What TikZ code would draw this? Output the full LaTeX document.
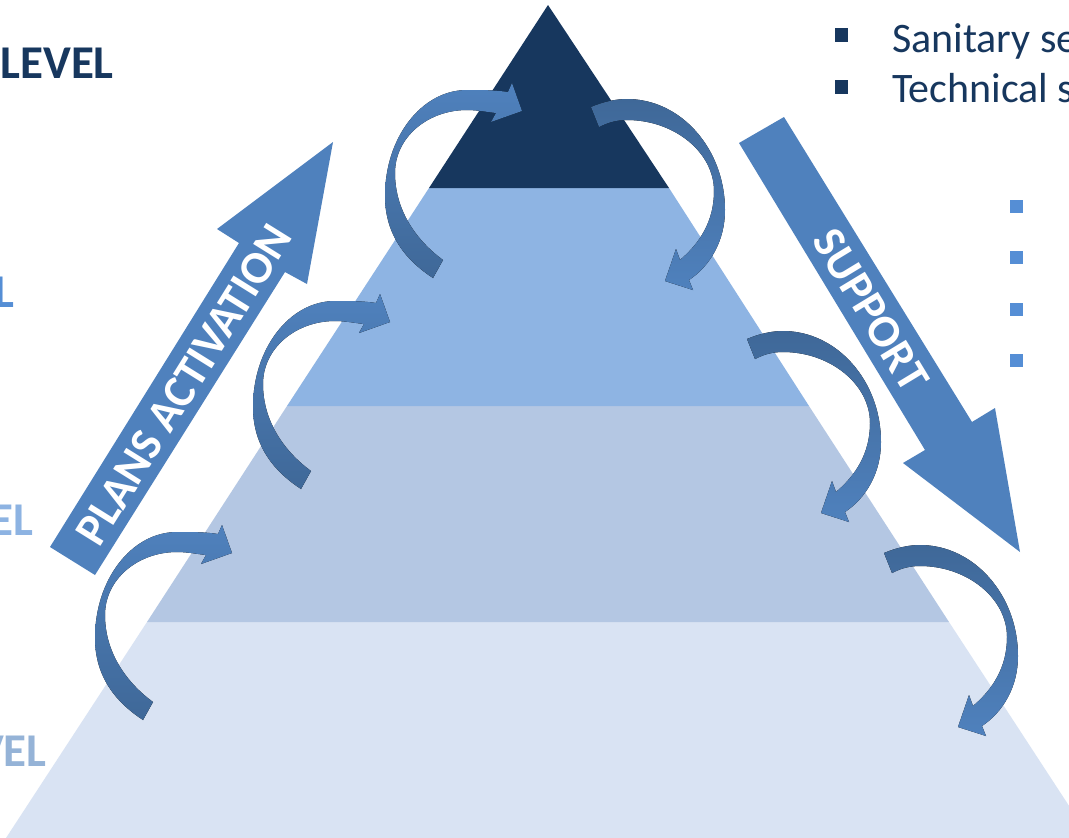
\documentclass[tikz,border=0pt]{standalone}
\usepackage{fontspec}
\setmainfont{Carlito}
\definecolor{navy}{HTML}{17375E}
\definecolor{levtwo}{HTML}{8EB4E3}
\definecolor{levthree}{HTML}{B4C7E3}
\definecolor{levfour}{HTML}{D9E3F3}
\definecolor{arlight}{HTML}{4F81BD}
\definecolor{ardark}{HTML}{3F6898}
\definecolor{lblue}{HTML}{558ED5}
\definecolor{lbluetwo}{HTML}{8DB3E2}
\definecolor{lbluethree}{HTML}{95B3D7}
\tikzset{
  pics/leftcurl/.style={code={
    \fill[top color=arlight, bottom color=ardark]
      (0,0) -- (-10,-28) -- (-14,-19)
      .. controls (-27,-21) and (-40,-21) .. (-55,-21)
      .. controls (-100,-21) and (-137,26) .. (-137,85)
      .. controls (-137,125) and (-115,150) .. (-89,167)
      -- (-79,149)
      .. controls (-105,130) and (-127,100) .. (-127,62)
      .. controls (-127,26) and (-94,-1) .. (-55,-1)
      .. controls (-45,-1) and (-35,1) .. (-26,2)
      -- (-31,11) -- cycle;
  }},
  pics/rightcurl/.style={code={
    \fill[top color=ardark, bottom color=arlight]
      (0,0) -- (11,-32) -- (15,-21)
      .. controls (35,-38) and (49,-60) .. (49,-90)
      .. controls (49,-129) and (9,-161) .. (-38,-161)
      .. controls (-50,-161) and (-58,-158) .. (-66,-154)
      -- (-74,-174)
      .. controls (-62,-179) and (-50,-182) .. (-38,-182)
      .. controls (16,-182) and (60,-132) .. (60,-71)
      .. controls (60,-40) and (45,-15) .. (24,-1)
      -- (28,9) -- cycle;
  }},
  lvl/.style={font=\bfseries\fontsize{47}{52}\selectfont, inner sep=0pt, anchor=base east},
  bigtxt/.style={font=\bfseries\fontsize{46}{52}\selectfont, text=white, inner sep=0pt},
  toptxt/.style={font=\fontsize{42}{50}\selectfont, text=navy, inner sep=0pt, anchor=base west},
}
\begin{document}
\begin{tikzpicture}[x=1pt,y=-1pt]
\useasboundingbox (0,0) rectangle (1069,838);
\fill[white] (0,0) rectangle (1069,838);
% pyramid
\fill[levfour] (147,622) -- (949,622) -- (1090,838) -- (6,838) -- cycle;
\fill[levthree] (287,406) -- (809,406) -- (949,622) -- (147,622) -- cycle;
\fill[levtwo] (429,188) -- (669,188) -- (809,406) -- (287,406) -- cycle;
\fill[navy] (548,5) -- (669,188) -- (429,188) -- cycle;
% big arrows
\fill[arlight] (50,547) -- (239,243) -- (217,229) -- (333,142) -- (307,284) -- (285,272) -- (95,575) -- cycle;
\fill[arlight] (739,143) -- (784,117) -- (972,422) -- (995,408) -- (1020,552) -- (903,463) -- (925,450) -- cycle;
\node[bigtxt, rotate=58.1] (plans) at (184,385) {PLANS ACTIVATION};
\node[bigtxt, rotate=-58.8] (support) at (871,310) {SUPPORT};
% curled arrows
\pic at (522,111) {leftcurl};
\pic at (390,322) {leftcurl};
\pic at (232,553) {leftcurl};
\pic at (665,281) {rightcurl};
\pic at (821,513) {rightcurl};
\pic at (958,727) {rightcurl};
% labels on left
\node[lvl, text=navy] (lone) at (114,78) {LEVEL};
\node[lvl, text=lblue] (ltwo) at (15,307) {L};
\node[lvl, text=lbluetwo] (lthree) at (34,535) {EL};
\node[lvl, text=lbluethree] (lfour) at (47,766) {VEL};
% top right bullets
\fill[navy] (835,28) rectangle (848,42);
\fill[navy] (835,80) rectangle (848,94);
\node[toptxt] (san) at (892,52) {Sanitary se};
\node[toptxt] (tech) at (892,102) {Technical s};
% right light bullets
\foreach \yy in {200,251,303,354} \fill[lblue] (1010,\yy) rectangle (1023,\yy+13);
\end{tikzpicture}
\end{document}
